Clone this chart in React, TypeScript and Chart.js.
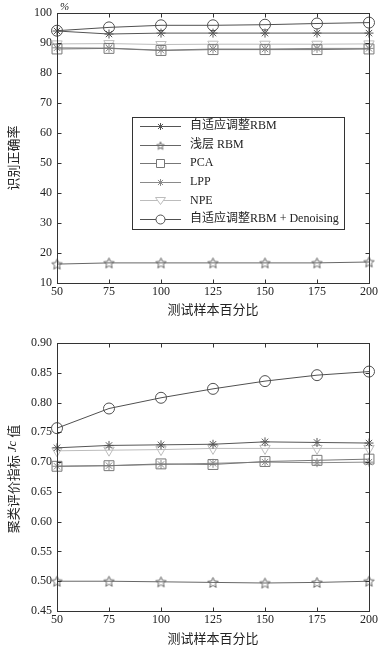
import React, { useEffect, useRef } from "react";
import { Chart, registerables } from "chart.js";

Chart.register(...registerables);

// ---------- data ----------
const xValues = [50, 75, 100, 125, 150, 175, 200];
const seriesNames = [
  "自适应调整RBM",
  "浅层 RBM",
  "PCA",
  "LPP",
  "NPE",
  "自适应调整RBM + Denoising",
];

// top chart: 识别正确率 (%)
const accAdaptiveRBM = [94.0, 93.0, 93.3, 93.3, 93.3, 93.3, 93.3];
const accShallowRBM = [16.3, 16.7, 16.7, 16.7, 16.7, 16.7, 17.0];
const accPCA = [88.0, 88.2, 87.5, 87.8, 87.8, 87.8, 88.0];
const accLPP = [88.4, 88.3, 87.6, 88.0, 88.0, 88.2, 88.2];
const accNPE = [89.7, 89.8, 89.5, 89.6, 89.6, 89.6, 89.7];
const accDenoise = [94.1, 95.2, 95.9, 95.9, 96.1, 96.5, 96.8];

// bottom chart: 聚类评价指标 Jc 值
const jcAdaptiveRBM = [0.724, 0.728, 0.729, 0.730, 0.734, 0.733, 0.732];
const jcShallowRBM = [0.5, 0.5, 0.499, 0.498, 0.497, 0.498, 0.5];
const jcPCA = [0.693, 0.694, 0.697, 0.696, 0.701, 0.703, 0.705];
const jcLPP = [0.693, 0.694, 0.696, 0.698, 0.7, 0.699, 0.7];
const jcNPE = [0.719, 0.72, 0.721, 0.723, 0.723, 0.723, 0.723];
const jcDenoise = [0.757, 0.79, 0.808, 0.823, 0.836, 0.846, 0.852];

const accTicks = { min: 10, max: 100, step: 10 };
const jcTicks = { min: 0.45, max: 0.9, step: 0.05 };

// ---------- styles ----------
const TEXT = "#222";
const AXIS = "#333";
const SERIF = '"Liberation Serif", "DejaVu Serif", serif';
const MIXED = '"Liberation Serif", "Noto Sans CJK SC", serif';
const CJK = '"Noto Sans CJK SC", "Liberation Serif", sans-serif';

type Style = {
  color: string;
  kind: "asterisk" | "pentagram" | "rect" | "triangleDown" | "circle";
  radius: number;
};

const styles: Style[] = [
  { color: "#555555", kind: "asterisk", radius: 4.5 },
  { color: "#666666", kind: "pentagram", radius: 6 },
  { color: "#777777", kind: "rect", radius: 7 },
  { color: "#8a8a8a", kind: "asterisk", radius: 4.5 },
  { color: "#bcbcbc", kind: "triangleDown", radius: 6 },
  { color: "#505050", kind: "circle", radius: 5.5 },
];

function makePentagram(size: number, color: string): HTMLCanvasElement {
  const c = document.createElement("canvas");
  c.width = size;
  c.height = size;
  const g = c.getContext("2d")!;
  const cx = size / 2;
  const cy = size / 2 + 0.5;
  const R = size / 2 - 1;
  const r = R * 0.45;
  g.beginPath();
  for (let i = 0; i < 10; i++) {
    const a = -Math.PI / 2 + (i * Math.PI) / 5;
    const rr = i % 2 === 0 ? R : r;
    const px = cx + rr * Math.cos(a);
    const py = cy + rr * Math.sin(a);
    if (i === 0) g.moveTo(px, py);
    else g.lineTo(px, py);
  }
  g.closePath();
  g.strokeStyle = color;
  g.lineWidth = 1;
  g.stroke();
  return c;
}

function drawLegendMarker(ctx: CanvasRenderingContext2D, s: Style, x: number, y: number) {
  ctx.save();
  ctx.strokeStyle = s.color;
  ctx.lineWidth = 1;
  ctx.beginPath();
  if (s.kind === "asterisk") {
    const r = 3.5;
    ctx.moveTo(x - r, y);
    ctx.lineTo(x + r, y);
    ctx.moveTo(x, y - r);
    ctx.lineTo(x, y + r);
    const d = r * 0.72;
    ctx.moveTo(x - d, y - d);
    ctx.lineTo(x + d, y + d);
    ctx.moveTo(x - d, y + d);
    ctx.lineTo(x + d, y - d);
    ctx.stroke();
  } else if (s.kind === "pentagram") {
    const img = makePentagram(10, s.color);
    ctx.drawImage(img, x - 5, y - 5);
  } else if (s.kind === "rect") {
    ctx.rect(x - 4, y - 4, 8, 8);
    ctx.fillStyle = "#fff";
    ctx.fill();
    ctx.stroke();
  } else if (s.kind === "triangleDown") {
    const r = 5;
    ctx.moveTo(x - r, y - r * 0.6);
    ctx.lineTo(x + r, y - r * 0.6);
    ctx.lineTo(x, y + r * 0.8);
    ctx.closePath();
    ctx.fillStyle = "#fff";
    ctx.fill();
    ctx.stroke();
  } else {
    ctx.arc(x, y, 4.5, 0, Math.PI * 2);
    ctx.fillStyle = "#fff";
    ctx.fill();
    ctx.stroke();
  }
  ctx.restore();
}

type ChartCfg = {
  series: number[][];
  ticks: { min: number; max: number; step: number };
  decimals: number;
  height: number;
  padTop: number;
  xAxisH: number;
  yTitle: (ctx: CanvasRenderingContext2D, area: any) => void;
  xTitleY: number;
  legend: boolean;
  percent: boolean;
};

function makeDecor(cfg: ChartCfg) {
  return {
    id: "decor",
    afterDraw(chart: any) {
      const ctx: CanvasRenderingContext2D = chart.ctx;
      const a = chart.chartArea;
      const xs = chart.scales.x;
      const ys = chart.scales.y;
      ctx.save();
      const L = Math.round(a.left) + 0.5;
      const R = Math.round(a.right) + 0.5;
      const T = Math.round(a.top) + 0.5;
      const B = Math.round(a.bottom) + 0.5;
      ctx.strokeStyle = AXIS;
      ctx.lineWidth = 1;
      ctx.strokeRect(L, T, R - L, B - T);
      ctx.beginPath();
      xs.ticks.forEach((t: any) => {
        const px = Math.round(xs.getPixelForValue(t.value)) + 0.5;
        ctx.moveTo(px, B);
        ctx.lineTo(px, B - 4);
        ctx.moveTo(px, T);
        ctx.lineTo(px, T + 4);
      });
      ys.ticks.forEach((t: any) => {
        const py = Math.round(ys.getPixelForValue(t.value)) + 0.5;
        ctx.moveTo(L, py);
        ctx.lineTo(L + 4, py);
        ctx.moveTo(R, py);
        ctx.lineTo(R - 4, py);
      });
      ctx.stroke();

      // x title
      ctx.fillStyle = TEXT;
      ctx.font = `13px ${CJK}`;
      ctx.textAlign = "center";
      ctx.textBaseline = "middle";
      ctx.fillText("测试样本百分比", (a.left + a.right) / 2, cfg.xTitleY);

      // y title
      cfg.yTitle(ctx, a);

      if (cfg.percent) {
        ctx.font = `italic 11px ${SERIF}`;
        ctx.textAlign = "left";
        ctx.textBaseline = "middle";
        ctx.fillStyle = TEXT;
        ctx.fillText("%", a.left + 3, 7);
      }

      if (cfg.legend) {
        const bx = 132.5, by = 117.5, bw = 212, bh = 112;
        ctx.fillStyle = "#fff";
        ctx.fillRect(bx, by, bw, bh);
        ctx.strokeStyle = AXIS;
        ctx.strokeRect(bx, by, bw, bh);
        seriesNames.forEach((name, i) => {
          const ry = 126 + i * 18.6;
          const s = styles[i];
          ctx.strokeStyle = s.color;
          ctx.beginPath();
          ctx.moveTo(140, Math.round(ry) + 0.5);
          ctx.lineTo(181, Math.round(ry) + 0.5);
          ctx.stroke();
          drawLegendMarker(ctx, s, 160.5, Math.round(ry) + 0.5);
          ctx.fillStyle = TEXT;
          ctx.font = `12px ${MIXED}`;
          ctx.textAlign = "left";
          ctx.textBaseline = "middle";
          ctx.fillText(name, 190, ry);
        });
      }
      ctx.restore();
    },
  };
}

function LineChart({ cfg }: { cfg: ChartCfg }) {
  const ref = useRef<HTMLCanvasElement>(null);
  useEffect(() => {
    if (!ref.current) return;
    const datasets = cfg.series.map((vals, i) => {
      const s = styles[i];
      return {
        label: seriesNames[i],
        data: xValues.map((x, j) => ({ x, y: vals[j] })),
        borderColor: s.color,
        borderWidth: 1,
        backgroundColor: "rgba(0,0,0,0)",
        pointBorderColor: s.color,
        pointBackgroundColor: "rgba(0,0,0,0)",
        pointBorderWidth: 1,
        pointRadius: s.radius,
        pointStyle:
          s.kind === "asterisk"
            ? "star"
            : s.kind === "pentagram"
            ? makePentagram(13, s.color)
            : s.kind === "rect"
            ? "rect"
            : s.kind === "triangleDown"
            ? "triangle"
            : "circle",
        pointRotation: s.kind === "triangleDown" ? 180 : 0,
        tension: 0,
        clip: false as any,
      };
    });
    const chart = new Chart(ref.current, {
      type: "line",
      data: { datasets } as any,
      options: {
        animation: false,
        responsive: false,
        maintainAspectRatio: false,
        devicePixelRatio: 1,
        layout: { padding: { top: cfg.padTop, right: 14, left: 0, bottom: 0 } },
        plugins: { legend: { display: false }, tooltip: { enabled: false } },
        events: [],
        scales: {
          x: {
            type: "linear",
            min: 50,
            max: 200,
            grid: { display: false, drawTicks: false },
            border: { display: false },
            ticks: {
              stepSize: 25,
              padding: 2,
              color: TEXT,
              font: { family: SERIF, size: 12 },
              maxRotation: 0,
            },
            afterFit: (s: any) => {
              s.height = cfg.xAxisH;
            },
          },
          y: {
            min: cfg.ticks.min,
            max: cfg.ticks.max,
            grid: { display: false, drawTicks: false },
            border: { display: false },
            ticks: {
              stepSize: cfg.ticks.step,
              padding: 5,
              color: TEXT,
              font: { family: SERIF, size: 12 },
              callback: (v: any) => Number(v).toFixed(cfg.decimals),
            },
            afterFit: (s: any) => {
              s.width = 57;
            },
          },
        },
      } as any,
      plugins: [makeDecor(cfg)],
    });
    return () => chart.destroy();
  }, []);
  return <canvas ref={ref} width={383} height={cfg.height} style={{ display: "block", width: 383, height: cfg.height }} />;
}

const topCfg: ChartCfg = {
  series: [accAdaptiveRBM, accShallowRBM, accPCA, accLPP, accNPE, accDenoise],
  ticks: accTicks,
  decimals: 0,
  height: 322,
  padTop: 13,
  xAxisH: 39,
  xTitleY: 309,
  legend: true,
  percent: true,
  yTitle: (ctx) => {
    ctx.save();
    ctx.translate(13, 158);
    ctx.rotate(-Math.PI / 2);
    ctx.font = `13px ${CJK}`;
    ctx.fillStyle = TEXT;
    ctx.textAlign = "center";
    ctx.textBaseline = "middle";
    ctx.fillText("识别正确率", 0, 0);
    ctx.restore();
  },
};

const bottomCfg: ChartCfg = {
  series: [jcAdaptiveRBM, jcShallowRBM, jcPCA, jcLPP, jcNPE, jcDenoise],
  ticks: jcTicks,
  decimals: 2,
  height: 325,
  padTop: 21,
  xAxisH: 36,
  xTitleY: 316,
  legend: false,
  percent: false,
  yTitle: (ctx, a) => {
    ctx.save();
    ctx.translate(13, (a.top + a.bottom) / 2 + 2);
    ctx.rotate(-Math.PI / 2);
    ctx.fillStyle = TEXT;
    ctx.textBaseline = "middle";
    const parts: [string, string][] = [
      ["聚类评价指标 ", `13px ${CJK}`],
      ["Jc", `italic 13px ${SERIF}`],
      [" 值", `13px ${CJK}`],
    ];
    let total = 0;
    parts.forEach(([t, f]) => {
      ctx.font = f;
      total += ctx.measureText(t).width;
    });
    let x = -total / 2;
    ctx.textAlign = "left";
    parts.forEach(([t, f]) => {
      ctx.font = f;
      ctx.fillText(t, x, 0);
      x += ctx.measureText(t).width;
    });
    ctx.restore();
  },
};

export default function App() {
  return (
    <div style={{ position: "absolute", left: 0, top: 0, width: 383, height: 647, background: "#fff" }}>
      <LineChart cfg={topCfg} />
      <LineChart cfg={bottomCfg} />
    </div>
  );
}
